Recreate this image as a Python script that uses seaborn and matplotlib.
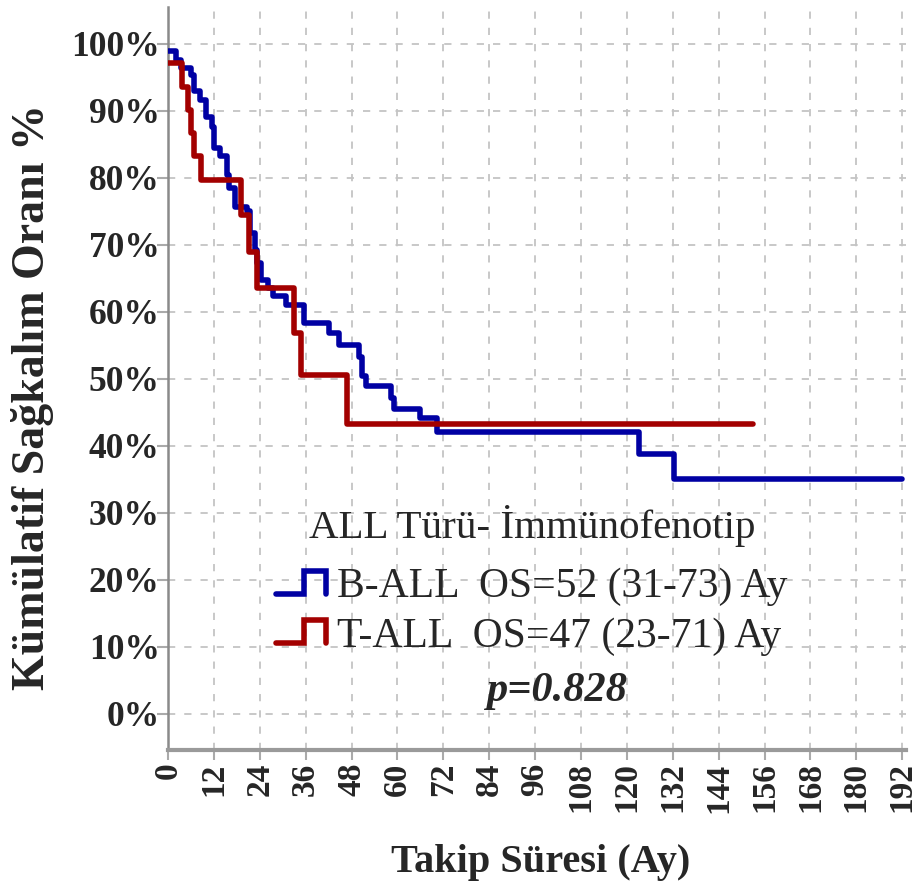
import numpy as np
import pandas as pd
import matplotlib
matplotlib.use("Agg")
import matplotlib.pyplot as plt
import seaborn as sns
from matplotlib.lines import Line2D
from matplotlib.legend_handler import HandlerBase

# ---- data ----
b_time = [0, 2.0, 3.3, 5.9, 6.8, 8.3, 10, 11.5, 12, 13.7, 15.5, 15.9, 17.6, 20.7,
          21.5, 22.8, 23.2, 24.4, 26.1, 27.5, 30.8, 35.6, 42.1, 44.7, 50, 50.8,
          51.7, 58.2, 59.1, 66, 70.4, 123.2, 132.4, 192]
b_surv = [99, 97.6, 96.4, 95.4, 92.9, 91.6, 89.1, 87.6, 84.5, 83.2, 80.4, 78.5,
          75.7, 75, 71.8, 69.3, 67.3, 64.8, 63.6, 62.3, 61, 58.4, 56.9, 55.1, 53.3,
          50.4, 48.9, 47.1, 45.5, 44.1, 42.1, 38.8, 35.1, 35.1]
t_time = [0, 3.7, 5.1, 5.9, 6.8, 8.5, 19, 21.2, 23.4, 33, 34.7, 46.9, 153]
t_surv = [97.1, 93.6, 90.1, 86.7, 83.2, 79.7, 74.5, 69, 63.5, 56.8, 50.6, 43.3, 43.3]

groups = ["B-ALL", "T-ALL"]
legend_labels = ["B-ALL  OS=52 (31-73) Ay", "T-ALL  OS=47 (23-71) Ay"]
legend_title = "ALL Türü- İmmünofenotip"
p_text = "p=0.828"
x_ticks = list(range(0, 193, 12))
y_ticks = list(range(0, 101, 10))
y_label = "Kümülatif Sağkalım Oranı %"
x_label = "Takip Süresi (Ay)"

df = pd.concat([
    pd.DataFrame({"time": b_time, "surv": b_surv, "group": groups[0]}),
    pd.DataFrame({"time": t_time, "surv": t_surv, "group": groups[1]}),
], ignore_index=True)

colors = {"B-ALL": "#0000a3", "T-ALL": "#a30000"}

sns.set_style("white")
plt.rcParams["font.family"] = ["Liberation Serif", "DejaVu Serif"]

fig = plt.figure(figsize=(9.2, 8.85), dpi=100)
ax = fig.add_axes([168 / 920, 1 - 750 / 885, 738 / 920, 743 / 885])

sns.lineplot(data=df, x="time", y="surv", hue="group", hue_order=groups,
             palette=colors, estimator=None, sort=False, drawstyle="steps-post",
             linewidth=4.0, legend=False, ax=ax, zorder=3)

ax.set_xlim(0, 193)
ax.set_ylim(-5.4, 105.5)
ax.set_xticks(x_ticks)
ax.set_xticklabels([str(v) for v in x_ticks], rotation=90, fontsize=24, fontweight="bold")
ax.set_yticks(y_ticks)
ax.set_yticklabels([f"{v}%" for v in y_ticks], fontsize=25.5, fontweight="bold")

ax.grid(True, color="#c4c4c4", linestyle=(0, (4, 5)), linewidth=1.3)
ax.set_axisbelow(True)
for s in ["top", "right"]:
    ax.spines[s].set_visible(False)
ax.spines["left"].set_color("#8a8a8a")
ax.spines["left"].set_linewidth(1.8)
ax.spines["bottom"].set_color("#9a9a9a")
ax.spines["bottom"].set_linewidth(3)
ax.tick_params(axis="y", direction="out", length=8, width=1.5, color="#aaaaaa", pad=-2, left=True)
ax.tick_params(axis="x", direction="out", length=7, width=1.5, color="#aaaaaa", pad=2, bottom=True)

ax.set_ylabel(y_label, fontsize=33, fontweight="bold")
ax.yaxis.set_label_coords(-0.154, 0.475)
ax.set_xlabel(x_label, fontsize=29, fontweight="bold")
ax.xaxis.set_label_coords(0.505, -0.126)


class StepHandler(HandlerBase):
    def create_artists(self, legend, orig_handle, xdescent, ydescent, width, height,
                       fontsize, trans):
        xs = [0, 0.55, 0.55, 1.0, 1.0]
        ys = [0.05, 0.05, 0.95, 0.95, 0.05]
        line = Line2D([x * width - xdescent for x in xs],
                      [y * height - ydescent for y in ys],
                      color=orig_handle.get_color(), lw=orig_handle.get_linewidth(),
                      solid_joinstyle="miter")
        line.set_transform(trans)
        return [line]


handles = [Line2D([], [], color=colors[g], lw=4.0) for g in groups]
leg = ax.legend(handles, legend_labels, title=legend_title, loc="upper center",
                bbox_to_anchor=(0.493, 0.358), frameon=False, fontsize=30,
                title_fontsize=29.5, handlelength=1.2, handleheight=0.58,
                handletextpad=0.25, labelspacing=0.26, borderpad=0,
                handler_map={Line2D: StepHandler()})
leg.get_title().set_family(["Liberation Serif", "DejaVu Serif"])
leg._legend_box.sep = 15

ax.text(0.526, 0.079, p_text, transform=ax.transAxes, ha="center", va="center",
        fontsize=30.5, fontweight="bold", fontstyle="italic")

fig.savefig("out.png", dpi=100)
